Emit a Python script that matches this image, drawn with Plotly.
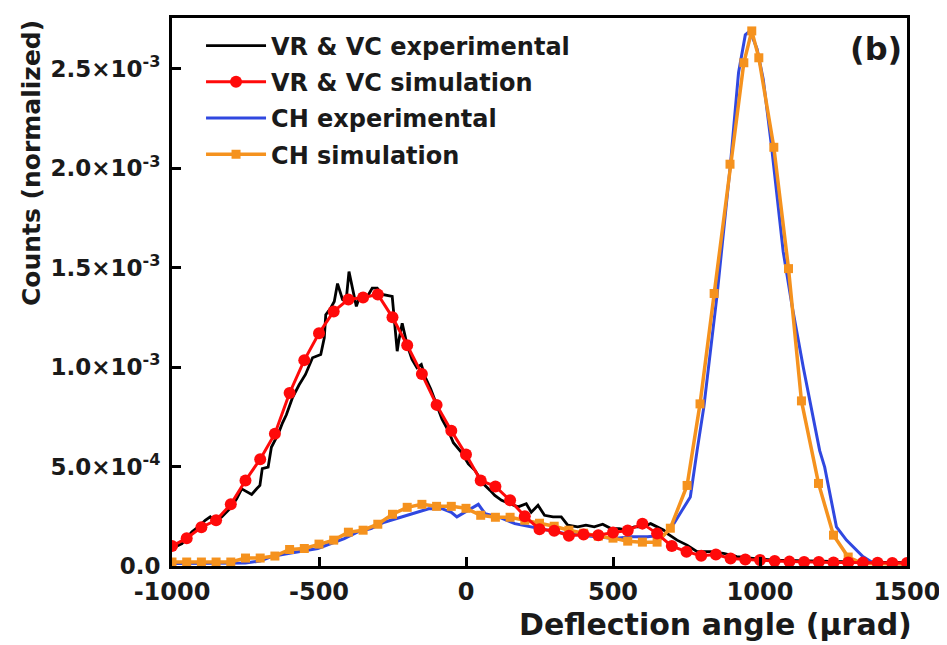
import plotly.graph_objects as go

# ---- data (y in units of 1e-3, x in µrad) ----
vr_exp_x = [-1000, -966, -932, -904, -887, -870, -853, -831, -803, -780, -763, -746, -729, -712, -701,
            -693, -673, -662, -639, -624, -611, -590, -568, -546, -522, -494, -482, -477, -460, -448,
            -437, -420, -408, -398, -384, -373, -358, -341, -319, -302, -285, -251, -234, -229, -217,
            -208, -200, -184, -167, -152, -138, -120, -105, -82, -60, -43, -15, 8, 31, 59, 82, 98, 121,
            149, 177, 205, 222, 245, 267, 296, 324, 346, 380, 408, 436, 465, 493, 521, 546, 572, 600,
            628, 651, 673, 685, 718, 752, 786, 831, 876, 921, 960, 1000, 1050, 1100, 1150, 1200, 1250,
            1300, 1350, 1400, 1450, 1500]
vr_exp_y = [0.088, 0.113, 0.172, 0.205, 0.23, 0.247, 0.222, 0.247, 0.288, 0.338, 0.388, 0.372, 0.36, 0.388, 0.405,
            0.49, 0.497, 0.597, 0.663, 0.72, 0.76, 0.847, 0.91, 0.963, 1.047, 1.063, 1.147, 1.263, 1.297, 1.33,
            1.42, 1.34, 1.33, 1.48, 1.38, 1.305, 1.37, 1.34, 1.397, 1.397, 1.365, 1.355, 1.08, 1.13, 1.22,
            1.16, 1.11, 1.04, 0.997, 1.013, 0.947, 0.89, 0.83, 0.74, 0.68, 0.62, 0.57, 0.513, 0.48, 0.413, 0.38, 0.355, 0.33,
            0.313, 0.297, 0.313, 0.27, 0.305, 0.255, 0.247, 0.247, 0.205, 0.197, 0.205, 0.197, 0.21, 0.188, 0.188, 0.18, 0.197, 0.197,
            0.213, 0.197, 0.18, 0.163, 0.13, 0.105, 0.072, 0.072, 0.063, 0.047, 0.04, 0.035, 0.03, 0.028, 0.025, 0.023, 0.022,
            0.02, 0.02, 0.018, 0.018, 0.017]

vr_sim_x = [-1000, -950, -900, -850, -800, -750, -700, -650, -600, -550, -500, -450, -400, -350, -300, -250,
            -200, -150, -100, -50, 0, 50, 100, 150, 200, 250, 300, 350, 400, 450, 500, 550, 600, 650, 700,
            750, 800, 850, 900, 950, 1000, 1050, 1100, 1150, 1200, 1250, 1300, 1350, 1400, 1450, 1500]
vr_sim_y = [0.10, 0.14, 0.195, 0.23, 0.31, 0.43, 0.537, 0.665, 0.87, 1.035, 1.17, 1.28, 1.34, 1.35, 1.365, 1.25,
            1.11, 0.965, 0.81, 0.68, 0.56, 0.43, 0.40, 0.33, 0.25, 0.185, 0.177, 0.152, 0.158, 0.155, 0.168, 0.178, 0.213, 0.163, 0.10,
            0.072, 0.052, 0.058, 0.038, 0.033, 0.03, 0.025, 0.022, 0.02, 0.02, 0.018, 0.018, 0.017, 0.016, 0.015, 0.015]

ch_exp_x = [-1000, -950, -900, -850, -800, -750, -700, -662, -605, -549, -504, -459, -414, -368, -323, -278,
            -256, -211, -178, -127, -82, -50, -31, -3, 20, 42, 65, 110, 166, 222, 279, 335, 391, 448, 504,
            561, 617, 673, 707, 735, 763, 786, 809, 854, 899, 927, 950, 966, 990, 1011, 1039, 1079, 1110,
            1147, 1180, 1203, 1220, 1237, 1260, 1294, 1350, 1380, 1420, 1500]
ch_exp_y = [0.012, 0.012, 0.012, 0.012, 0.013, 0.015, 0.025, 0.047, 0.063, 0.075, 0.088, 0.113, 0.138, 0.172, 0.188, 0.22,
            0.23, 0.247, 0.263, 0.288, 0.288, 0.27, 0.247, 0.27, 0.29, 0.31, 0.263, 0.247, 0.213, 0.197, 0.18, 0.163, 0.155, 0.147, 0.138,
            0.147, 0.147, 0.155, 0.213, 0.28, 0.347, 0.58, 0.80, 1.363, 2.013, 2.48, 2.67, 2.69, 2.6, 2.447, 2.113, 1.58, 1.3,
            1.0, 0.75, 0.58, 0.497, 0.363, 0.197, 0.13, 0.047, 0.02, 0.012, 0.01]

ch_sim_x = [-1000, -950, -900, -850, -800, -750, -700, -650, -600, -550, -500, -450, -400, -350, -300, -250,
            -200, -150, -100, -50, 0, 50, 100, 150, 200, 250, 300, 350, 400, 450, 500, 550, 600, 650, 695,
            752, 796, 844, 898, 945, 972, 996, 1047, 1097, 1141, 1199, 1250, 1300, 1350, 1400, 1450, 1500]
ch_sim_y = [0.02, 0.02, 0.02, 0.02, 0.02, 0.04, 0.04, 0.05, 0.083, 0.088, 0.11, 0.13, 0.17, 0.18, 0.21, 0.26,
            0.295, 0.31, 0.30, 0.30, 0.29, 0.255, 0.245, 0.245, 0.23, 0.215, 0.20, 0.18, 0.165, 0.15, 0.14, 0.125, 0.12, 0.12, 0.19,
            0.405, 0.815, 1.37, 2.02, 2.53, 2.69, 2.555, 2.105, 1.495, 0.83, 0.415, 0.155, 0.045, 0.012, 0.01, 0.01, 0.01]

x_ticks = [-1000, -500, 0, 500, 1000, 1500]
y_ticks = [0, 0.5, 1.0, 1.5, 2.0, 2.5]
y_ticktext = ["0.0", "5.0×10<sup>-4</sup>", "1.0×10<sup>-3</sup>", "1.5×10<sup>-3</sup>",
              "2.0×10<sup>-3</sup>", "2.5×10<sup>-3</sup>"]

FONT = "DejaVu Sans"
BLACK = "#000000"
TXT = "#1a1a1a"
RED = "#ff0a0a"
BLUE = "#3048e0"
ORANGE = "#f5921e"

fig = go.Figure()
fig.add_trace(go.Scatter(x=vr_exp_x, y=vr_exp_y, mode="lines", name="<b>VR & VC experimental</b>",
                         line=dict(color=BLACK, width=2.8), legendrank=1, legendgroup="a"))
fig.add_trace(go.Scatter(x=ch_exp_x, y=ch_exp_y, mode="lines", name="<b>CH experimental</b>",
                         line=dict(color=BLUE, width=3), legendrank=3, legendgroup="c"))
fig.add_trace(go.Scatter(x=ch_sim_x, y=ch_sim_y, mode="lines+markers", name="<b>CH simulation</b>",
                         line=dict(color=ORANGE, width=3.5),
                         marker=dict(symbol="square", size=9, color=ORANGE), legendrank=4, legendgroup="d"))
fig.add_trace(go.Scatter(x=vr_sim_x, y=vr_sim_y, mode="lines+markers", name="<b>VR & VC simulation</b>",
                         line=dict(color=RED, width=3),
                         marker=dict(symbol="circle", size=12, color=RED), legendrank=2, legendgroup="b"))

axis_common = dict(showline=True, linewidth=3, linecolor=BLACK, mirror=True, showgrid=False,
                   zeroline=False, ticks="inside", ticklen=9, tickwidth=2.5, tickcolor=BLACK)

fig.update_xaxes(range=[-1000, 1500], tickvals=x_ticks,
                 ticktext=["<b>%d</b>" % v for v in x_ticks], ticklabelstandoff=2,
                 tickfont=dict(family=FONT, size=24, color=TXT), **axis_common)
fig.update_yaxes(range=[0, 2.755], tickvals=y_ticks,
                 ticktext=["<b>%s</b>" % t for t in y_ticktext], ticklabelstandoff=4,
                 tickfont=dict(family=FONT, size=23, color=TXT), **axis_common)

# page body has an 8px default margin; figure sized so that the plot lands where the reference has it
fig.update_layout(
    width=939, height=637,
    margin=dict(l=164, r=36, t=7, b=79),
    paper_bgcolor="white", plot_bgcolor="white",
    showlegend=True,
    legend=dict(x=0.0395, y=0.99, xanchor="left", yanchor="top", traceorder="grouped",
                tracegroupgap=2,
                bgcolor="rgba(0,0,0,0)", borderwidth=0, itemwidth=60,
                font=dict(family=FONT, size=24, color=TXT)),
    annotations=[
        dict(text="<b>Deflection angle (µrad)</b>", xref="paper", yref="paper",
             x=1.01, y=-0.107, xanchor="right", yanchor="middle", showarrow=False,
             font=dict(family=FONT, size=30, color=TXT)),
        dict(text="<b>Counts (normalized)</b>", xref="paper", yref="paper", textangle=-90,
             x=-0.192, y=0.735, xanchor="center", yanchor="middle", showarrow=False,
             font=dict(family=FONT, size=25, color=TXT)),
        dict(text="<b>(b)</b>", xref="paper", yref="paper",
             x=0.958, y=0.944, xanchor="center", yanchor="middle", showarrow=False,
             font=dict(family=FONT, size=32, color=TXT)),
    ],
)

fig.write_html("out.html")
